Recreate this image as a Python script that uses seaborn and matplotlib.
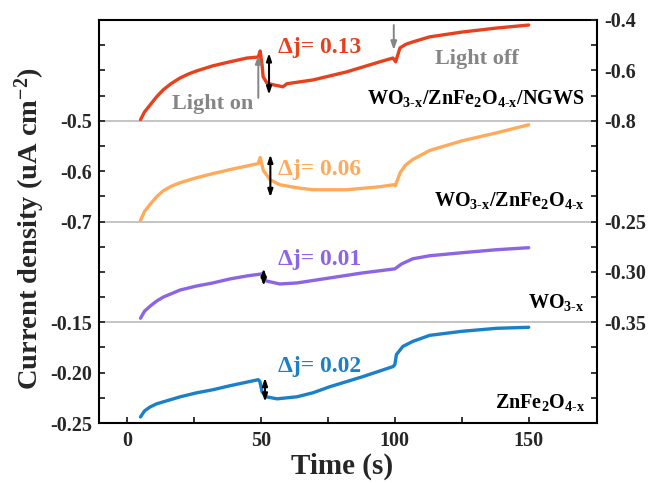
import matplotlib
matplotlib.use("Agg")
import matplotlib.pyplot as plt
import seaborn as sns
import pandas as pd
from matplotlib.ticker import FixedLocator, FormatStrFormatter, NullFormatter

# ---------------- data ----------------
t_ngws = [5, 6.5, 8.6, 11, 13.5, 16.5, 19.8, 23, 26, 32, 38.4, 44.8, 49, 49.7, 50.4, 50.8,
          52.2, 54.5, 58.2, 59.7, 69.4, 82, 94.4, 99.3, 100.3, 101.9, 104, 106.7, 113, 125, 138, 150]
j_ngws = [-0.796, -0.765, -0.737, -0.705, -0.677, -0.652, -0.630, -0.614, -0.602, -0.582,
          -0.566, -0.551, -0.547, -0.523, -0.578, -0.625, -0.650, -0.657, -0.665, -0.653,
          -0.638, -0.606, -0.566, -0.551, -0.566, -0.511, -0.497, -0.487, -0.467, -0.448,
          -0.432, -0.420]

t_zf = [5, 6.5, 8.6, 11, 13.5, 16.5, 19.8, 26, 32, 38.4, 49, 49.7, 50.9, 53.4, 57, 63.4,
        69.4, 82, 94.4, 99.5, 100.2, 102, 104, 106.7, 113, 125, 138, 150]
j_zf = [-0.698, -0.680, -0.666, -0.651, -0.639, -0.630, -0.623, -0.613, -0.605, -0.597,
        -0.585, -0.573, -0.599, -0.617, -0.627, -0.633, -0.637, -0.637, -0.631, -0.627,
        -0.629, -0.603, -0.588, -0.577, -0.559, -0.540, -0.524, -0.508]

t_wo = [5, 6.5, 8.6, 11, 13.5, 19.8, 26, 32, 38.4, 44.8, 50.4, 51.2, 52, 57, 63.4, 75.7,
        88, 100, 102.6, 106.7, 113, 125, 138, 150]
j_wo = [-0.346, -0.339, -0.334, -0.329, -0.325, -0.318, -0.314, -0.311, -0.307, -0.304,
        -0.302, -0.307, -0.309, -0.312, -0.311, -0.306, -0.301, -0.297, -0.292, -0.287,
        -0.284, -0.281, -0.278, -0.276]

t_z = [5, 6.5, 8.6, 11, 13.5, 19.8, 26, 32, 38.4, 49, 49.6, 50.4, 52, 56, 63.4, 69.4,
       75.7, 88, 99.3, 100, 100.6, 103, 106.7, 113, 125, 138, 150]
j_z = [-0.244, -0.238, -0.234, -0.231, -0.229, -0.224, -0.220, -0.217, -0.213, -0.207,
       -0.209, -0.219, -0.224, -0.226, -0.224, -0.220, -0.214, -0.204, -0.194, -0.192,
       -0.182, -0.174, -0.169, -0.163, -0.159, -0.156, -0.155]

delta_labels = ["Δj= 0.13", "Δj= 0.06", "Δj= 0.01", "Δj= 0.02"]
sample_labels = [r"$\mathbf{WO}_{\mathbf{3\text{-}x}}\mathbf{/ZnFe}_{\mathbf{2}}\mathbf{O}_{\mathbf{4\text{-}x}}\mathbf{/NGWS}$",
                 r"$\mathbf{WO}_{\mathbf{3\text{-}x}}\mathbf{/ZnFe}_{\mathbf{2}}\mathbf{O}_{\mathbf{4\text{-}x}}$",
                 r"$\mathbf{WO}_{\mathbf{3\text{-}x}}$",
                 r"$\mathbf{ZnFe}_{\mathbf{2}}\mathbf{O}_{\mathbf{4\text{-}x}}$"]
colors = ["#E8401C", "#FFAA5A", "#8C64E6", "#1A80C9"]
x_ticks = [0, 50, 100, 150]

# ---------------- style ----------------
sns.set_style("ticks")
plt.rcParams["font.family"] = ["Liberation Serif", "DejaVu Serif"]
plt.rcParams["font.weight"] = "bold"
plt.rcParams["axes.unicode_minus"] = False
plt.rcParams["mathtext.fontset"] = "custom"
plt.rcParams["mathtext.rm"] = "Liberation Serif"
plt.rcParams["mathtext.bf"] = "Liberation Serif:bold"
plt.rcParams["mathtext.it"] = "Liberation Serif:italic"

fig = plt.figure(figsize=(6.54, 4.83), dpi=100)
axes = fig.subplots(4, 1, sharex=True, gridspec_kw=dict(hspace=0))
fig.subplots_adjust(left=0.1514, right=0.9128, top=0.9586, bottom=0.1242)

TICK_FS = 14.5
GRAY = "#858585"
SEP = "#C4C4C4"

def style_axis(a, left=True):
    a.patch.set_visible(False)
    for s in a.spines.values():
        s.set_linewidth(1.5)
        s.set_color("black")
    a.tick_params(axis="y", which="both", direction="in", length=4, width=1.3,
                  labelsize=TICK_FS, left=left, right=not left,
                  labelleft=left, labelright=not left, pad=5)

twins = []
for i, ax in enumerate(axes):
    ax.set_xlim(-10.5, 175.5)
    tw = ax.twinx()
    twins.append(tw)
    style_axis(ax, True)
    style_axis(tw, False)
    ax.spines["top"].set_visible(i == 0)
    ax.spines["bottom"].set_visible(i == 3)
    ax.spines["right"].set_visible(False)
    tw.spines["top"].set_visible(False)
    tw.spines["bottom"].set_visible(False)
    tw.spines["left"].set_visible(False)
    if i < 3:
        ax.tick_params(axis="x", which="both", bottom=False, top=False, labelbottom=False)

def set_ticks(a, lim, major, minor, fmt):
    a.set_ylim(*lim)
    a.yaxis.set_major_locator(FixedLocator(major))
    a.yaxis.set_minor_locator(FixedLocator(minor))
    if fmt:
        a.yaxis.set_major_formatter(FormatStrFormatter(fmt))
    else:
        a.yaxis.set_major_formatter(NullFormatter())
    a.yaxis.set_minor_formatter(NullFormatter())
    a.set_ylabel("")

series = [(t_ngws, j_ngws, twins[0]), (t_zf, j_zf, axes[1]),
          (t_wo, j_wo, twins[2]), (t_z, j_z, axes[3])]
for (t, j, a), c in zip(series, colors):
    df = pd.DataFrame({"t": t, "j": j})
    sns.lineplot(data=df, x="t", y="j", ax=a, color=c, lw=2.4, sort=False,
                 solid_capstyle="round", solid_joinstyle="round")
    a.set_ylabel("")
    a.set_xlabel("")

# panel 0 : NGWS (plotted on right scale)
set_ticks(axes[0], (-0.5, -0.3), [-0.5], [-0.45, -0.40, -0.35], "%.1f")
set_ticks(twins[0], (-0.8, -0.4), [-0.8, -0.6, -0.4], [-0.7, -0.5], "%.1f")
# panel 1 : WO3/ZnFe2O4 (left scale)
set_ticks(axes[1], (-0.7, -0.5), [-0.7, -0.6], [-0.65, -0.55], "%.1f")
set_ticks(twins[1], (-0.25, -0.15), [-0.25], [-0.225, -0.20, -0.175], "%.2f")
# panel 2 : WO3 (right scale)
set_ticks(axes[2], (-0.15, -0.05), [-0.15], [-0.125, -0.10, -0.075], "%.2f")
set_ticks(twins[2], (-0.35, -0.25), [-0.35, -0.30], [-0.325, -0.275], "%.2f")
# panel 3 : ZnFe2O4 (left scale)
set_ticks(axes[3], (-0.25, -0.15), [-0.25, -0.20], [-0.225, -0.175], "%.2f")
set_ticks(twins[3], (-0.25, -0.15), [], [-0.225, -0.20, -0.175], None)

# separators
for ax in axes[:3]:
    ax.axhline(ax.get_ylim()[0], color=SEP, lw=1.4, clip_on=False, zorder=0)

# x axis
ax = axes[3]
ax.set_xlim(-10.5, 175.5)
ax.xaxis.set_major_locator(FixedLocator(x_ticks))
ax.xaxis.set_minor_locator(FixedLocator([25, 75, 125]))
ax.tick_params(axis="x", which="both", direction="in", length=4, width=1.3,
               labelsize=TICK_FS, bottom=True, top=False, pad=6)
ax.set_xlabel("")

# delta-j arrows and labels
arrow_kw = dict(arrowstyle="<|-|>,head_length=0.45,head_width=0.15", color="black", lw=1.5,
                shrinkA=0, shrinkB=0)
arrows = [(twins[0], 53, -0.531, -0.697), (axes[1], 53.5, -0.567, -0.652),
          (twins[2], 51, -0.2965, -0.314), (axes[3], 51.5, -0.205, -0.229)]
for a, x, y1, y2 in arrows:
    a.annotate("", xy=(x, y2), xytext=(x, y1), arrowprops=arrow_kw)

dj_pos = [(twins[0], -0.511), (axes[1], -0.597), (twins[2], -0.2876), (axes[3], -0.194)]
for (a, y), lab, c in zip(dj_pos, delta_labels, colors):
    a.text(56.3, y, lab, color=c, fontsize=17, fontweight="bold", ha="left", va="center")

lab_pos = [(twins[0], -0.733), (axes[1], -0.670), (twins[2], -0.336), (axes[3], -0.235)]
for (a, y), lab in zip(lab_pos, sample_labels):
    a.text(170.9, y, lab, color="black", fontsize=14.5, ha="right", va="baseline")

# light on / off
tw = twins[0]
tw.annotate("", xy=(49, -0.539), xytext=(49, -0.709),
            arrowprops=dict(arrowstyle="-|>,head_length=0.5,head_width=0.18", color=GRAY,
                            lw=1.4, shrinkA=0, shrinkB=0))
tw.annotate("", xy=(99.6, -0.519), xytext=(99.6, -0.420),
            arrowprops=dict(arrowstyle="-|>,head_length=0.5,head_width=0.18", color=GRAY,
                            lw=1.4, shrinkA=0, shrinkB=0))
tw.text(47, -0.752, "Light on", color=GRAY, fontsize=16, fontweight="bold",
        ha="right", va="baseline")
tw.text(114.9, -0.574, "Light off", color=GRAY, fontsize=16, fontweight="bold",
        ha="left", va="baseline")

fig.text(30 / 654, 1 - 229 / 483, r"Current density (uA cm$^{\mathbf{-2}}$)",
         rotation=90, ha="center", va="center", fontsize=20.5, fontweight="bold")
fig.text(342 / 654, 1 - 466 / 483, "Time (s)", ha="center", va="center",
         fontsize=21, fontweight="bold")

fig.savefig("out.png", dpi=100)
